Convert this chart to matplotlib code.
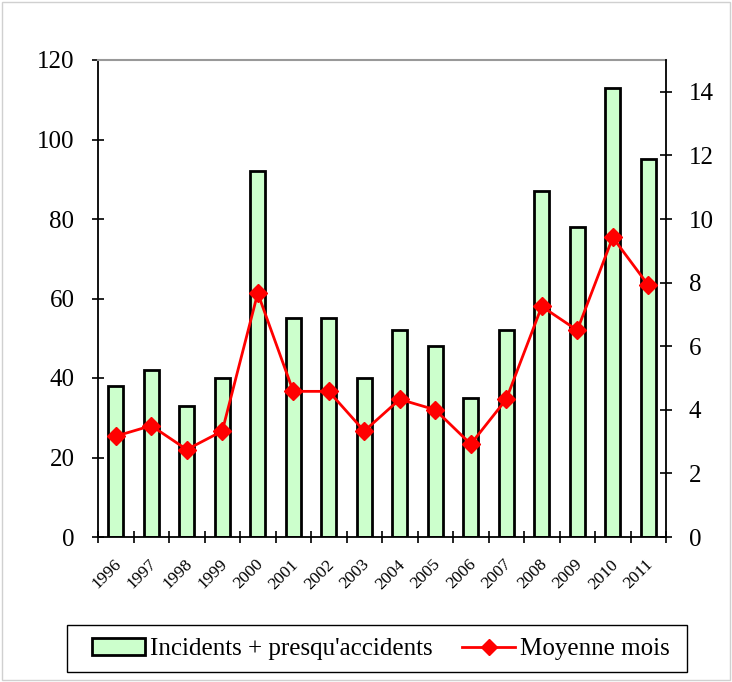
import matplotlib
matplotlib.use("Agg")
import matplotlib.pyplot as plt
from matplotlib.patches import Rectangle
import matplotlib.transforms as mtransforms
import numpy as np

years = ["1996", "1997", "1998", "1999", "2000", "2001", "2002", "2003",
         "2004", "2005", "2006", "2007", "2008", "2009", "2010", "2011"]
incidents = [38, 42, 33, 40, 92, 55, 55, 40, 52, 48, 35, 52, 87, 78, 113, 95]
moyenne = [3.17, 3.5, 2.75, 3.33, 7.67, 4.58, 4.58, 3.33, 4.33, 4.0, 2.92,
           4.33, 7.25, 6.5, 9.42, 7.92]

plt.rcParams['font.family'] = ['Liberation Serif', 'DejaVu Serif']

W, H = 732, 682
fig = plt.figure(figsize=(W/100, H/100), dpi=100)
fig.patches.append(Rectangle((0.003, 0.003), 0.994, 0.994, transform=fig.transFigure,
                             fill=False, edgecolor='#d0d0d0', linewidth=1.0))
ax = fig.add_axes([98/W, 1 - 537/H, (666-98)/W, (537-60)/H])
x = np.arange(len(years))
ax.bar(x, incidents, width=0.42, color='#ccffcc', edgecolor='black', linewidth=2,
       label="Incidents + presqu'accidents", zorder=2)
ax.set_xlim(-0.5, len(years) - 0.5)
ax.set_ylim(0, 120)
ax.set_yticks(range(0, 121, 20))
ax.tick_params(axis='y', direction='inout', length=9, labelsize=18, width=1.2, pad=12.5)
ax.set_xticks(np.arange(-0.5, len(years), 1.0))
ax.set_xticklabels([])
ax.tick_params(axis='x', direction='inout', length=9, width=1.2)
ax.set_xticks(x, minor=True)
ax.set_xticklabels(years, minor=True, rotation=45, ha='right', va='top',
                   rotation_mode='anchor', fontsize=12.5)
ax.tick_params(axis='x', which='minor', length=0, pad=14)
offset = mtransforms.ScaledTranslation(-2/72, 0, fig.dpi_scale_trans)
for lbl in ax.get_xticklabels(minor=True):
    lbl.set_transform(lbl.get_transform() + offset)
ax.spines['top'].set_color('#999999')
ax.spines['top'].set_linewidth(1.5)
ax.spines['right'].set_visible(False)
for s in ['left', 'bottom']:
    ax.spines[s].set_linewidth(1.3)

ax2 = ax.twinx()
ax2.plot(x, moyenne, color='red', marker='D', markersize=9, linewidth=2,
         label='Moyenne mois', zorder=3)
ax2.set_ylim(0, 15)
ax2.set_yticks(range(0, 15, 2))
ax2.tick_params(axis='y', direction='inout', length=9, labelsize=18, width=1.2, pad=12)
ax2.spines['top'].set_visible(False)
ax2.spines['left'].set_visible(False)
ax2.spines['bottom'].set_visible(False)
ax2.spines['right'].set_linewidth(1.3)

# legend box
fig.patches.append(Rectangle((67/W, 1 - 672/H), (687-67)/W, (672-625)/H,
                             transform=fig.transFigure, fill=False,
                             edgecolor='black', linewidth=1.0))
h1, l1 = ax.get_legend_handles_labels()
h2, l2 = ax2.get_legend_handles_labels()
leg = fig.legend(h1 + h2, l1 + l2, loc='center', bbox_to_anchor=(381/W, 1 - 649/H),
                 ncol=2, frameon=False, fontsize=18, handlelength=2.1,
                 handletextpad=0.2, columnspacing=1.2, borderpad=0.0, borderaxespad=0)
leg.legend_handles[1].set_markersize(8)

fig.savefig("out.png", dpi=100)
